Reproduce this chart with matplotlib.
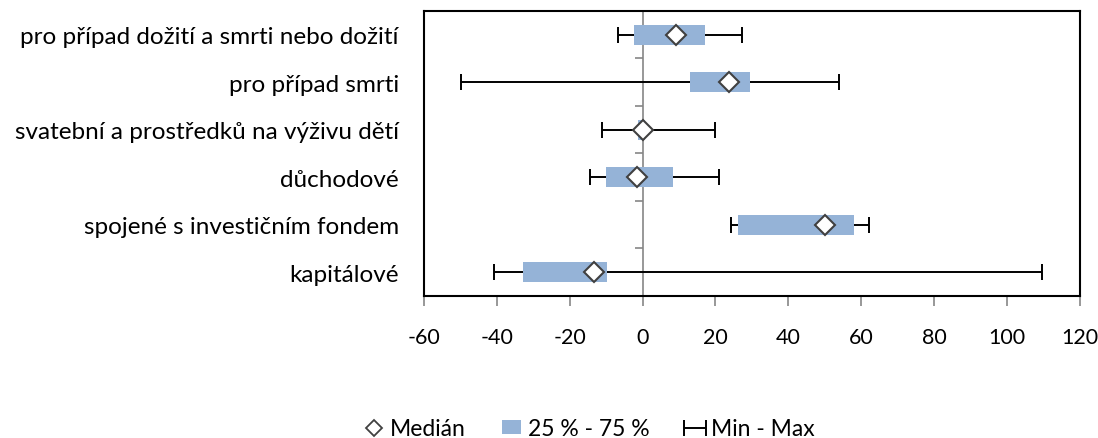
import numpy as np
import matplotlib
matplotlib.use('Agg')
import matplotlib.pyplot as plt
from matplotlib.patches import Patch
from matplotlib.lines import Line2D

categories = ['pro případ dožití a smrti nebo dožití', 'pro případ smrti',
              'svatební a prostředků na výživu dětí', 'důchodové',
              'spojené s investičním fondem', 'kapitálové']
mins = [-6.6, -49.7, -11.1, -14.3, 24.2, -40.7]
q1 = [-2.3, 13.0, -1.3, -10.1, 26.2, -32.8]
medians = [9.2, 23.7, 0.0, -1.6, 50.0, -13.3]
q3 = [17.2, 29.4, 0.6, 8.4, 58.0, -9.8]
maxs = [27.4, 54.0, 19.8, 20.9, 62.1, 109.6]
xticks = [-60, -40, -20, 0, 20, 40, 60, 80, 100, 120]

plt.rcParams['font.family'] = ['Lato', 'DejaVu Sans']
fs = 17.5

mins = np.array(mins)
q1 = np.array(q1)
medians = np.array(medians)
q3 = np.array(q3)
maxs = np.array(maxs)

fig = plt.figure(figsize=(10.98, 4.39), dpi=100)
ax = fig.add_axes([0.386, 0.3235, 0.5976, 0.6495])

n = len(categories)
y = np.arange(n)[::-1]

ax.axvline(0, color='#868686', lw=1.2, zorder=1)
bounds = np.arange(n + 1) - 0.5
ax.plot(np.zeros(len(bounds)), bounds, ls='', marker=0, markersize=6,
        markeredgewidth=1.2, color='#868686', zorder=1, clip_on=False)

eb = ax.errorbar(medians, y, xerr=[medians - mins, maxs - medians], fmt='none',
                 ecolor='black', elinewidth=1.4, capsize=5.5, capthick=1.4, zorder=2)
ax.barh(y, q3 - q1, left=q1, height=0.42, color='#95b3d7', zorder=3)
ax.plot(medians, y, ls='', marker='D', markersize=10, markerfacecolor='white',
        markeredgecolor='#404040', markeredgewidth=1.5, zorder=4)

ax.set_xlim(-60, 120)
ax.set_ylim(-0.5, n - 0.5)
ax.set_xticks(xticks)
ax.set_xticklabels([str(t) for t in xticks])
ax.set_yticks(y)
ax.set_yticklabels(categories)
ax.tick_params(axis='y', length=0, pad=18, labelsize=fs)
ax.tick_params(axis='x', direction='out', length=7, width=1.2, color='#868686',
               pad=15, labelsize=15.5)
for s in ax.spines.values():
    s.set_linewidth(1.5)
    s.set_color('black')

handles = [
    Line2D([], [], ls='', marker='D', markersize=8, markerfacecolor='white',
           markeredgecolor='#404040', markeredgewidth=1.3),
    Patch(facecolor='#95b3d7'),
    eb,
]
fig.legend(handles, ['Medián', '25 % - 75 %', 'Min - Max'], loc='center',
           bbox_to_anchor=(0.537, 0.021), ncol=3, frameon=False, fontsize=16.5,
           handlelength=0.8, handleheight=0.6, handletextpad=0.3,
           columnspacing=1.6)

fig.savefig('out.png', dpi=100)
